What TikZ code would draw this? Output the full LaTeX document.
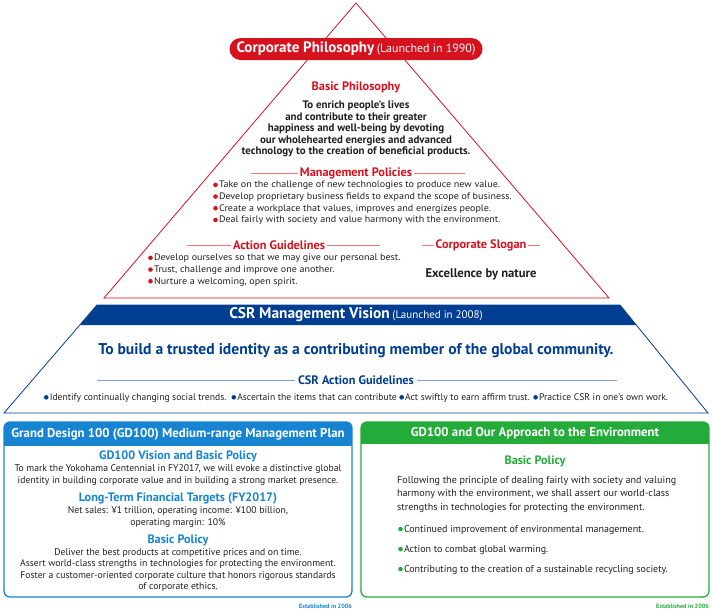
\documentclass[tikz,border=0pt]{standalone}
\usepackage{fontspec}
\setmainfont{PT Sans}
\newfontfamily\wide[FakeStretch=1.07]{PT Sans}
\definecolor{cpred}{RGB}{214,18,30}
\definecolor{redrule}{RGB}{238,120,120}
\definecolor{csrblue}{RGB}{0,62,145}
\definecolor{csrrule}{RGB}{130,160,205}
\definecolor{boxblue}{RGB}{22,132,208}
\definecolor{boxgreen}{RGB}{36,172,58}
\definecolor{ink}{RGB}{35,30,30}
\newcommand{\mydot}[1]{\tikz[baseline=-0.32em]\fill[#1] (0,0) circle (2.3pt);\hspace{1.2pt}}
\newcommand{\rdot}{\mydot{cpred}}
\newcommand{\bdot}{\mydot{csrblue}}
\newcommand{\gdot}{\mydot{boxgreen}}
\tikzset{
  rhead/.style={text=cpred, font=\bfseries\fontsize{12.3}{14}\selectfont, inner sep=1.5pt},
  tribody/.style={text=ink, font=\wide\fontsize{9.4}{11.7}\selectfont, inner sep=0pt},
  boxbody/.style={text=ink, font=\fontsize{9.7}{11.3}\selectfont, align=center, inner sep=0pt},
  bluehead/.style={text=boxblue, font=\bfseries\fontsize{12.2}{13}\selectfont, inner sep=0pt},
  boxtitle/.style={text=white, font=\bfseries\fontsize{12.8}{13}\selectfont},
  small/.style={font=\bfseries\fontsize{6.2}{7}\selectfont, inner sep=0pt, anchor=east}
}
\begin{document}
\begin{tikzpicture}[x=1pt, y=-1pt]
\useasboundingbox (0,0) rectangle (712,613);
\draw[cpred, line width=.8pt] (356,3) -- (104,298) -- (609,298) -- cycle;
\node[rounded corners=11pt, fill=cpred, text=white, minimum width=253, minimum height=22, inner sep=0pt] (cp) at (356,49)
  {\bfseries\fontsize{15}{15}\selectfont Corporate Philosophy\,{\mdseries\fontsize{12}{12}\selectfont(Launched in 1990)}};
\node[rhead] (bp) at (356,87) {Basic Philosophy};
\node[tribody, font=\bfseries\fontsize{10.9}{11.5}\selectfont, align=center] (bpt) at (356,129)
  {To enrich people’s lives\\ and contribute to their greater\\ happiness and well-being by devoting\\ our wholehearted energies and advanced\\ technology to the creation of beneficial products.};
\node[rhead] (mp) at (356,173) {Management Policies};
\coordinate (mpl) at (251,173);
\coordinate (mpr) at (465,173);
\draw[redrule, line width=1pt] (mpl) -- (mp.west);
\draw[redrule, line width=1pt] (mp.east) -- (mpr);
\node[tribody, align=left, anchor=north west] (mpt) at (213,181)
  {\rdot Take on the challenge of new technologies to produce new value.\\
   \rdot Develop proprietary business fields to expand the scope of business.\\
   \rdot Create a workplace that values, improves and energizes people.\\
   \rdot Deal fairly with society and value harmony with the environment.};
\node[rhead] (ag) at (279,245) {Action Guidelines};
\coordinate (agl) at (187,245);
\coordinate (agr) at (380,245);
\draw[redrule, line width=1pt] (agl) -- (ag.west);
\draw[redrule, line width=1pt] (ag.east) -- (agr);
\node[rhead] (cs) at (481,245) {Corporate Slogan};
\coordinate (csl) at (422,245);
\coordinate (csr) at (540,245);
\draw[redrule, line width=1pt] (csl) -- (cs.west);
\draw[redrule, line width=1pt] (cs.east) -- (csr);
\node[tribody, align=left, anchor=north west] (agt) at (148,254)
  {\rdot Develop ourselves so that we may give our personal best.\\
   \rdot Trust, challenge and improve one another.\\
   \rdot Nurture a welcoming, open spirit.};
\node[text=ink, font=\bfseries\fontsize{12.6}{14}\selectfont] (slo) at (481,274) {Excellence by nature};
\fill[csrblue] (97,305) -- (620,305) -- (636,325) -- (80,325) -- cycle;
\draw[csrblue, line width=.8pt] (97,305) -- (620,305) -- (708,413) -- (4,413) -- cycle;
\node[text=white, font=\bfseries\fontsize{15.4}{16}\selectfont] (cv) at (356,315)
  {CSR Management Vision\,{\mdseries\fontsize{11}{12}\selectfont(Launched in 2008)}};
\node[text=csrblue, font=\bfseries\fontsize{15.6}{16}\selectfont] (vis) at (356,351)
  {To build a trusted identity as a contributing member of the global community.};
\node[text=csrblue, font=\bfseries\fontsize{12.3}{13}\selectfont, inner sep=3pt] (cg) at (356,380) {CSR Action Guidelines};
\coordinate (cgl) at (97,380);
\coordinate (cgr) at (617,380);
\draw[csrrule, line width=1pt] (cgl) -- (cg.west);
\draw[csrrule, line width=1pt] (cg.east) -- (cgr);
\node[tribody, font=\fontsize{9.6}{11}\selectfont] (cgt) at (356,398)
  {\bdot Identify continually changing social trends.\ \ \bdot Ascertain the items that can contribute \bdot Act swiftly to earn affirm trust. \bdot Practice CSR in one’s own work.};
\begin{scope}
\clip[rounded corners=6pt] (4,422) rectangle (352,597);
\fill[boxblue] (4,422) rectangle (352,446);
\end{scope}
\draw[boxblue, line width=1.3pt, rounded corners=6pt] (4,422) rectangle (352,597);
\node[boxtitle] (gd) at (178,434) {Grand Design 100 (GD100) Medium-range Management Plan};
\node[bluehead] (gv) at (178,456) {GD100 Vision and Basic Policy};
\node[boxbody] (gvt) at (178,475) {To mark the Yokohama Centennial in FY2017, we will evoke a distinctive global\\ identity in building corporate value and in building a strong market presence.};
\node[bluehead] (lt) at (178,498) {Long-Term Financial Targets (FY2017)};
\node[boxbody] (ltt) at (178,517) {Net sales: ¥1 trillion, operating income: ¥100 billion,\\ operating margin: 10\%};
\node[bluehead] (gb) at (178,540) {Basic Policy};
\node[boxbody] (gbt) at (178,570) {Deliver the best products at competitive prices and on time.\\ Assert world-class strengths in technologies for protecting the environment.\\ Foster a customer-oriented corporate culture that honors rigorous standards\\ of corporate ethics.};
\node[small, text=boxblue] (e1) at (352,606) {Established in 2006};
\begin{scope}
\clip[rounded corners=6pt] (361,422) rectangle (709,597);
\fill[boxgreen] (361,422) rectangle (709,444);
\end{scope}
\draw[boxgreen, line width=1.3pt, rounded corners=6pt] (361,422) rectangle (709,597);
\node[boxtitle] (ge) at (535,433) {GD100 and Our Approach to the Environment};
\node[text=boxgreen, font=\bfseries\fontsize{12.2}{13}\selectfont] (eb) at (535,461) {Basic Policy};
\node[boxbody, font=\fontsize{10.1}{13.5}\selectfont, align=left, anchor=north west] (ebt) at (397,476)
  {Following the principle of dealing fairly with society and valuing\\ harmony with the environment, we shall assert our world-class\\ strengths in technologies for protecting the environment.};
\node[boxbody, font=\fontsize{10}{20}\selectfont, align=left, anchor=north west] (ebl) at (398,525)
  {\gdot Continued improvement of environmental management.\\ \gdot Action to combat global warming.\\ \gdot Contributing to the creation of a sustainable recycling society.};
\node[small, text=boxgreen] (e2) at (709,606) {Established in 2006};
\end{tikzpicture}
\end{document}
